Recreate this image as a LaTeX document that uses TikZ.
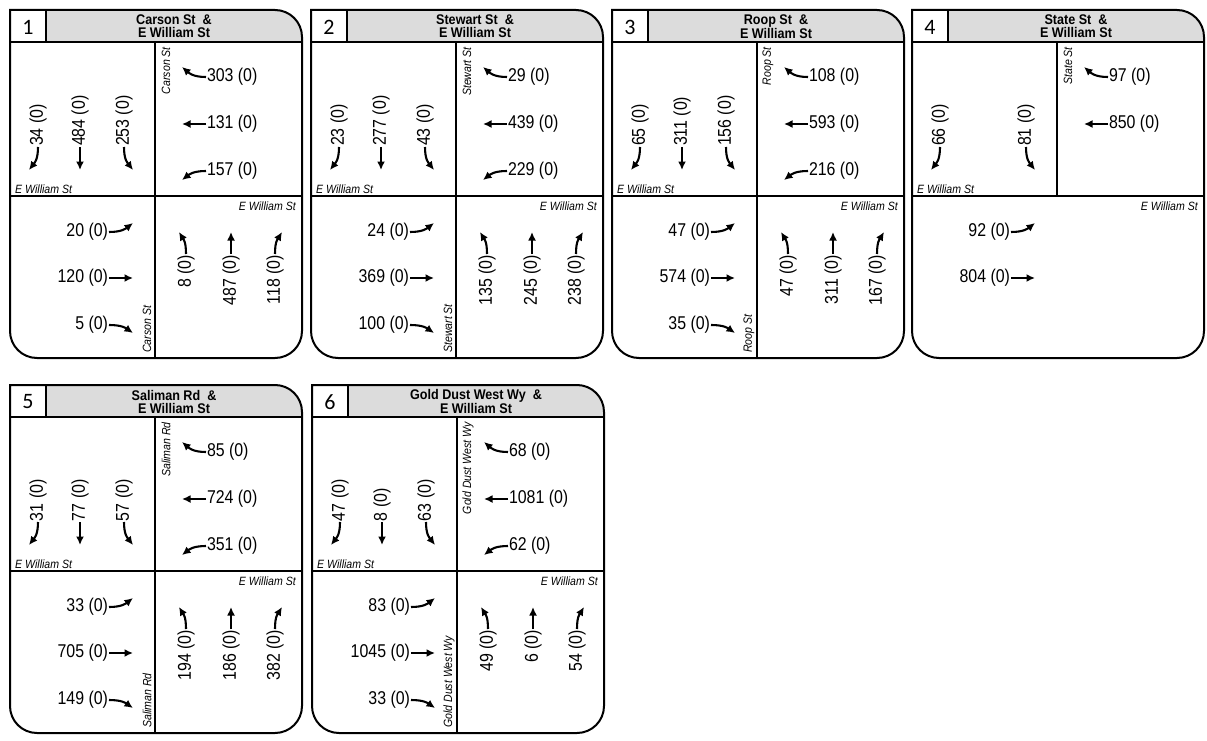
\documentclass[tikz,border=0pt]{standalone}
\usepackage{fontspec}
\setmainfont{Liberation Sans}
\newfontfamily\numf[FakeStretch=0.86]{Liberation Sans}
\newfontfamily\strf[FakeStretch=0.88]{Liberation Sans}
\newfontfamily\ttlf[FakeStretch=0.9]{Liberation Sans}
\newfontfamily\idxf{Carlito}
\usetikzlibrary{arrows.meta}
\definecolor{hdrgray}{RGB}{220,220,220}
\tikzset{
  arr/.style={line width=2.1pt,-{Latex[length=8.5pt,width=8pt]}},
  vol/.style={font=\numf\fontsize{18.5}{20}\selectfont,inner sep=0.8pt},
  strt/.style={font=\strf\itshape\fontsize{12}{13}\selectfont,inner sep=0pt},
  ttl/.style={font=\ttlf\bfseries\fontsize{14}{13}\selectfont,align=center,inner sep=0pt},
  idx/.style={font=\idxf\fontsize{22}{24}\selectfont,inner sep=0pt},
  frame/.style={line width=2pt},
}
% generic movement: id, start, end, ctrl1 (rel. start), ctrl2 (rel. end), node options, text
\newcommand\mvmt[7]{%
  \coordinate (#1s) at (#2);
  \coordinate (#1e) at (#3);
  \node[vol,#6] (#1t) at (#1s) {#7};
  \draw[arr] (#1s) .. controls +(#4) and +(#5) .. (#1e);
}
% southbound: id, x, dx, text
\newcommand\sbnd[4]{\mvmt{#1}{#2,-137}{{#2+#3},-160}{0,-13}{{-0.6*#3},7}{rotate=90,anchor=west}{#4}}
% northbound
\newcommand\nbnd[4]{\mvmt{#1}{#2,-244}{{#2+#3},-222}{0,13}{{-0.6*#3},-7}{rotate=90,anchor=east}{#4}}
% westbound: id, y, dy (down positive), text
\newcommand\wbnd[4]{\mvmt{#1}{196,-#2}{172,{-#2-#3}}{-13,0}{7,{0.6*#3}}{anchor=west}{#4}}
% eastbound
\newcommand\ebnd[4]{\mvmt{#1}{99,-#2}{123,{-#2-#3}}{13,0}{-7,{0.6*#3}}{anchor=east}{#4}}
% panel frame: id, number, first title line
\newcommand\pframe[3]{%
  \fill[hdrgray] (36,0) -- (265,0) arc[start angle=90,end angle=0,radius=27pt] -- (292,-32) -- (36,-32) -- cycle;
  \draw[frame] (36,0) -- (36,-32) (0,-32) -- (292,-32) (0,-186) -- (292,-186);
  \draw[frame] (0,0) -- (265,0) arc[start angle=90,end angle=0,radius=27pt] -- (292,-321)
     arc[start angle=0,end angle=-90,radius=27pt] -- (27,-348)
     arc[start angle=270,end angle=180,radius=27pt] -- cycle;
  \node[idx] (#1n) at (18,-17) {#2};
  \node[ttl] (#1h) at (164,-16.5) {#3\enspace\&\\E William St};
}
\newcommand\streetsA[2]{%
  \node[strt,anchor=base west] (#1sa) at (5,-183) {E William St};
  \node[strt,anchor=north east] (#1sb) at (286,-192) {E William St};
  \node[strt,rotate=90,anchor=east] (#1sc) at (156,-37) {#2};
}
\newcommand\streetsB[2]{%
  \node[strt,rotate=90,anchor=west] (#1sd) at (137,-343) {#2};
}
\begin{document}
\begin{tikzpicture}[x=1pt,y=1pt]
\useasboundingbox (0,0) rectangle (1207,-741);
\fill[white] (0,0) rectangle (1207,-741);

% ---------- Panel 1 ----------
\begin{scope}[shift={(10,-10)}]
\pframe{p1}{1}{Carson St}
\draw[frame] (145,-32) -- (145,-348);
\sbnd{p1s1}{28}{-9}{34 (0)}\sbnd{p1s2}{70}{0}{484 (0)}\sbnd{p1s3}{114}{9}{253 (0)}
\wbnd{p1w1}{67}{-10}{303 (0)}\wbnd{p1w2}{114}{0}{131 (0)}\wbnd{p1w3}{161}{9}{157 (0)}
\ebnd{p1e1}{222}{-9}{20 (0)}\ebnd{p1e2}{268}{0}{120 (0)}\ebnd{p1e3}{315}{8}{5 (0)}
\nbnd{p1n1}{176}{-7}{8 (0)}\nbnd{p1n2}{221}{0}{487 (0)}\nbnd{p1n3}{265}{7}{118 (0)}
\streetsA{p1}{Carson St}\streetsB{p1}{Carson St}
\end{scope}

% ---------- Panel 2 ----------
\begin{scope}[shift={(311,-10)}]
\pframe{p2}{2}{Stewart St}
\draw[frame] (145,-32) -- (145,-348);
\sbnd{p2s1}{28}{-9}{23 (0)}\sbnd{p2s2}{70}{0}{277 (0)}\sbnd{p2s3}{114}{9}{43 (0)}
\wbnd{p2w1}{67}{-10}{29 (0)}\wbnd{p2w2}{114}{0}{439 (0)}\wbnd{p2w3}{161}{9}{229 (0)}
\ebnd{p2e1}{222}{-9}{24 (0)}\ebnd{p2e2}{268}{0}{369 (0)}\ebnd{p2e3}{315}{8}{100 (0)}
\nbnd{p2n1}{176}{-7}{135 (0)}\nbnd{p2n2}{221}{0}{245 (0)}\nbnd{p2n3}{265}{7}{238 (0)}
\streetsA{p2}{Stewart St}\streetsB{p2}{Stewart St}
\end{scope}

% ---------- Panel 3 ----------
\begin{scope}[shift={(612,-10)}]
\pframe{p3}{3}{Roop St}
\draw[frame] (145,-32) -- (145,-348);
\sbnd{p3s1}{28}{-9}{65 (0)}\sbnd{p3s2}{70}{0}{311 (0)}\sbnd{p3s3}{114}{9}{156 (0)}
\wbnd{p3w1}{67}{-10}{108 (0)}\wbnd{p3w2}{114}{0}{593 (0)}\wbnd{p3w3}{161}{9}{216 (0)}
\ebnd{p3e1}{222}{-9}{47 (0)}\ebnd{p3e2}{268}{0}{574 (0)}\ebnd{p3e3}{315}{8}{35 (0)}
\nbnd{p3n1}{176}{-7}{47 (0)}\nbnd{p3n2}{221}{0}{311 (0)}\nbnd{p3n3}{265}{7}{167 (0)}
\streetsA{p3}{Roop St}\streetsB{p3}{Roop St}
\end{scope}

% ---------- Panel 4 ----------
\begin{scope}[shift={(912,-10)}]
\pframe{p4}{4}{State St}
\draw[frame] (145,-32) -- (145,-186);
\sbnd{p4s1}{28}{-9}{66 (0)}\sbnd{p4s3}{114}{9}{81 (0)}
\wbnd{p4w1}{67}{-10}{97 (0)}\wbnd{p4w2}{114}{0}{850 (0)}
\ebnd{p4e1}{222}{-9}{92 (0)}\ebnd{p4e2}{268}{0}{804 (0)}
\streetsA{p4}{State St}
\end{scope}

% ---------- Panel 5 ----------
\begin{scope}[shift={(10,-385)}]
\pframe{p5}{5}{Saliman Rd}
\draw[frame] (145,-32) -- (145,-348);
\sbnd{p5s1}{28}{-9}{31 (0)}\sbnd{p5s2}{70}{0}{77 (0)}\sbnd{p5s3}{114}{9}{57 (0)}
\wbnd{p5w1}{67}{-10}{85 (0)}\wbnd{p5w2}{114}{0}{724 (0)}\wbnd{p5w3}{161}{9}{351 (0)}
\ebnd{p5e1}{222}{-9}{33 (0)}\ebnd{p5e2}{268}{0}{705 (0)}\ebnd{p5e3}{315}{8}{149 (0)}
\nbnd{p5n1}{176}{-7}{194 (0)}\nbnd{p5n2}{221}{0}{186 (0)}\nbnd{p5n3}{265}{7}{382 (0)}
\streetsA{p5}{Saliman Rd}\streetsB{p5}{Saliman Rd}
\end{scope}

% ---------- Panel 6 ----------
\begin{scope}[shift={(312,-385)}]
\pframe{p6}{6}{Gold Dust West Wy}
\draw[frame] (145,-32) -- (145,-348);
\sbnd{p6s1}{28}{-9}{47 (0)}\sbnd{p6s2}{70}{0}{8 (0)}\sbnd{p6s3}{114}{9}{63 (0)}
\wbnd{p6w1}{67}{-10}{68 (0)}\wbnd{p6w2}{114}{0}{1081 (0)}\wbnd{p6w3}{161}{9}{62 (0)}
\ebnd{p6e1}{222}{-9}{83 (0)}\ebnd{p6e2}{268}{0}{1045 (0)}\ebnd{p6e3}{315}{8}{33 (0)}
\nbnd{p6n1}{176}{-7}{49 (0)}\nbnd{p6n2}{221}{0}{6 (0)}\nbnd{p6n3}{265}{7}{54 (0)}
\streetsA{p6}{Gold Dust West Wy}\streetsB{p6}{Gold Dust West Wy}
\end{scope}
\end{tikzpicture}
\end{document}
